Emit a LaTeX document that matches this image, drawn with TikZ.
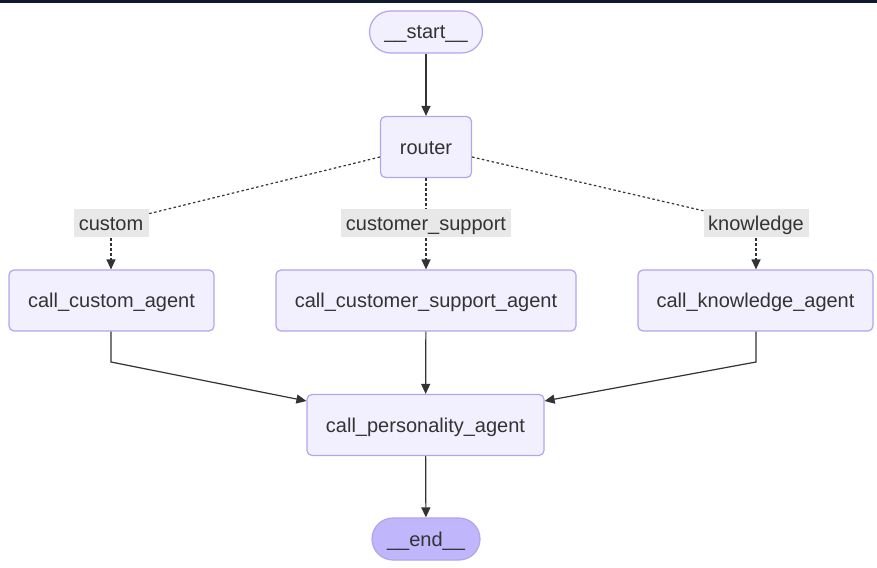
\documentclass[tikz,border=0pt]{standalone}
\usepackage{fontspec}
\setmainfont{Liberation Sans}
\usetikzlibrary{arrows.meta,positioning}
\definecolor{nodefill}{HTML}{F2F0FF}
\definecolor{nodedraw}{HTML}{B7A3EC}
\definecolor{endfill}{HTML}{BFB6FC}
\definecolor{labelbg}{HTML}{E8E8E8}
\definecolor{ink}{HTML}{333333}
\definecolor{topbar}{HTML}{0D1B2A}
\begin{document}
\begin{tikzpicture}[x=1pt,y=-1pt,
  font=\fontsize{20}{22}\selectfont,
  every node/.style={text height=14pt,text depth=0pt},
  box/.style={draw=nodedraw,fill=nodefill,line width=1.2pt,rounded corners=5pt,
    text=ink,inner sep=0pt,minimum height=61pt},
  pill/.style={draw=nodedraw,line width=1.2pt,rounded corners=21pt,
    text=ink,inner sep=0pt,minimum height=42pt},
  lab/.style={fill=labelbg,text=ink,inner sep=0pt,minimum height=28pt},
  solidedge/.style={draw=ink,line width=1.2pt,-{Triangle[length=10pt,width=9pt]}},
  dotedge/.style={draw=ink,line width=1.2pt,dash pattern=on 2.5pt off 2.5pt},
  dotarrow/.style={dotedge,-{Triangle[length=10pt,width=9pt]}}]
\useasboundingbox (0,0) rectangle (877,567);
\fill[white] (0,0) rectangle (877,567);
\fill[topbar] (0,0) rectangle (877,3);

\node[pill,fill=nodefill,minimum width=113pt] (start) at (426,32) {\_\_start\_\_};
\node[box,minimum width=91pt] (router) at (426,147) {router};
\node[box,minimum width=205pt] (custom) at (111.5,300.5) {call\_custom\_agent};
\node[box,minimum width=300pt] (support) at (426,300.5) {call\_customer\_support\_agent};
\node[box,minimum width=235pt] (know) at (755.5,300.5) {call\_knowledge\_agent};
\node[box,minimum width=237pt] (pers) at (425.5,425) {call\_personality\_agent};
\node[pill,fill=endfill,minimum width=108pt] (end) at (426,539) {\_\_end\_\_};

\coordinate (lc) at (111,223);
\coordinate (ls) at (426,223);
\coordinate (lk) at (756,223);
\coordinate (bc) at (111,362);
\coordinate (bk) at (756,362);

\draw[solidedge] (start) -- (router);
\draw[dotedge] (router.west |- 0,157) -- (lc);
\draw[dotarrow] (lc) -- (custom.north -| lc);
\draw[dotarrow] (router) -- (support);
\draw[dotedge] (router.east |- 0,157) -- (lk);
\draw[dotarrow] (lk) -- (know.north -| lk);

\node[lab,minimum width=75pt] (labc) at (lc) {custom};
\node[lab,minimum width=170pt] (labs) at (ls) {customer\_support};
\node[lab,minimum width=105pt] (labk) at (lk) {knowledge};

\draw[solidedge] (custom.south -| bc) -- (bc) -- (pers.west |- 0,401);
\draw[solidedge] (support) -- (pers);
\draw[solidedge] (know.south -| bk) -- (bk) -- (pers.east |- 0,401);
\draw[solidedge] (pers) -- (end);
\end{tikzpicture}
\end{document}
